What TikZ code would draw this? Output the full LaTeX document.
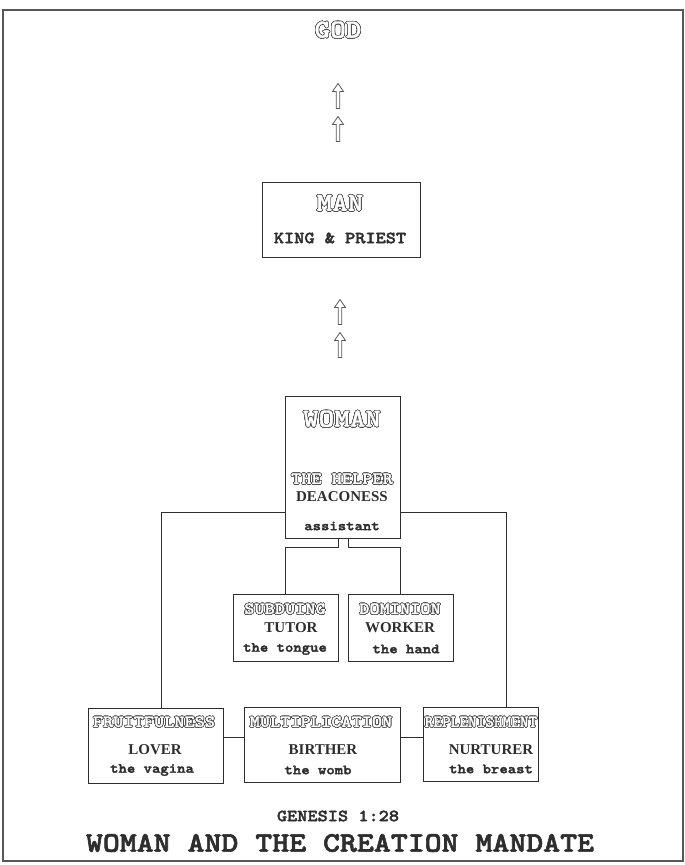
\documentclass[tikz,border=0pt]{standalone}
\usepackage{fontspec}
\setmainfont{Liberation Serif}
\newfontfamily\courb{lmmonolt10-bold.otf}[FakeStretch=1.14, FakeBold=2.2]
\newfontfamily\courh{lmmonolt10-bold.otf}[FakeStretch=1.14, FakeBold=1.2]
\usepackage{graphicx}
\usepackage{contour}
\contourlength{0.6pt}
\contournumber{24}
\definecolor{ink}{HTML}{2E2E2E}
\newcommand\holl[1]{\contour{ink!85}{\textcolor{white}{#1}}}
\tikzset{
  box/.style={draw=ink, line width=1pt, inner sep=0pt, rectangle},
  wire/.style={draw=ink, line width=0.9pt},
  frameline/.style={draw=ink!80, line width=1.4pt},
  bigholl/.style={inner sep=0pt, font=\courh\fontsize{26}{26}\selectfont},
  smallholl/.style={inner sep=0pt, font=\courh\fontsize{17}{17}\selectfont},
  role/.style={inner sep=0pt, text=ink, font=\rmfamily\bfseries\fontsize{15}{15}\selectfont},
  organ/.style={inner sep=0pt, text=ink, font=\courb\fontsize{14}{14}\selectfont},
  kingtext/.style={inner sep=0pt, text=ink, font=\courb\fontsize{17}{17}\selectfont},
  gentext/.style={inner sep=0pt, text=ink, font=\courb\fontsize{17}{17}\selectfont},
  titletext/.style={inner sep=0pt, text=ink, font=\courb\fontsize{28.3}{28.3}\selectfont},
  hollowarrow/.pic={\draw[ink!80, line width=0.8pt, line join=miter]
     (0,-12.5)--(5.5,-4.5)--(1.8,-4.5)--(1.8,12.5)--(-1.8,12.5)--(-1.8,-4.5)--(-5.5,-4.5)--cycle;}
}
\begin{document}
\begin{tikzpicture}[x=1pt,y=-1pt]
\useasboundingbox (0,0) rectangle (685,865);
\draw[frameline] (3,10) rectangle (683,861);

% GOD and arrows
\node[bigholl] (god) at (338,30) {\holl{GOD}};
\pic at (338,96) {hollowarrow};
\pic at (338,129) {hollowarrow};

% MAN
\node[box, minimum width=158, minimum height=75] (man) at (341,219.5) {};
\node[bigholl] (mant) at (340,203) {\holl{MAN}};
\node[kingtext] (kp) at (340,238) {KING \& PRIEST};

\pic at (340,312) {hollowarrow};
\pic at (340,345) {hollowarrow};

% WOMAN
\node[box, minimum width=115, minimum height=142] (woman) at (342.5,467) {};
\node[bigholl] (womant) at (342,419) {\holl{WOMAN}};
\node[smallholl] (helper) at (342,479) {\holl{THE HELPER}};
\node[role] (deac) at (342,497) {DEACONESS};
\node[organ] (assist) at (342,526) {assistant};

% SUBDUING / DOMINION
\node[box, minimum width=105, minimum height=67] (sub) at (285.5,627.5) {};
\node[smallholl] (subt) at (285,609) {\holl{SUBDUING}};
\node[role] (tutor) at (291,628) {TUTOR};
\node[organ] (tongue) at (285,649) {the tongue};

\node[box, minimum width=105, minimum height=67] (dom) at (400.5,627.5) {};
\node[smallholl] (domt) at (400,609) {\holl{DOMINION}};
\node[role] (worker) at (400,628) {WORKER};
\node[organ] (hand) at (406,649) {the hand};

% bottom row
\node[box, minimum width=135, minimum height=75] (fru) at (155.5,745.5) {};
\node[smallholl] (frut) at (154,722) {\holl{FRUITFULNESS}};
\node[role] (lover) at (155,750) {LOVER};
\node[organ] (vagina) at (152,770) {the vagina};

\node[box, minimum width=156, minimum height=75] (mul) at (322,745) {};
\node[smallholl] (mult) at (321,722) {\holl{MULTIPLICATION}};
\node[role] (birther) at (323,750) {BIRTHER};
\node[organ] (womb) at (318,770) {the womb};

\node[box, minimum width=115, minimum height=74] (rep) at (480.5,744) {};
\node[smallholl] (rept) at (481,722) {\scalebox{0.85}[1]{\holl{REPLENISHMENT}}};
\node[role] (nurt) at (491,750) {NURTURER};
\node[organ] (breast) at (491,769) {the breast};

% titles
\node[gentext] (gen) at (338,816) {GENESIS 1:28};
\node[titletext] (title) at (340,843) {WOMAN AND THE CREATION MANDATE};

% connectors
\coordinate (lvlA) at (0,512);
\coordinate (lvlB) at (0,547);
\coordinate (lvlC) at (0,737);
\coordinate (tapL) at (161,0);
\coordinate (tapR) at (506,0);
\coordinate (dropL) at (338,0);
\coordinate (dropR) at (348,0);

\draw[wire] (woman.west |- lvlA) -| (tapL |- fru.north);
\draw[wire] (woman.east |- lvlA) -| (tapR |- rep.north);
\draw[wire] (dropL |- woman.south) -- (dropL |- lvlB) -| (sub.north);
\draw[wire] (dropR |- woman.south) -- (dropR |- lvlB) -| (dom.north);
\draw[wire] (fru.east |- lvlC) -- (mul.west |- lvlC);
\draw[wire] (mul.east |- lvlC) -- (rep.west |- lvlC);
\end{tikzpicture}
\end{document}
